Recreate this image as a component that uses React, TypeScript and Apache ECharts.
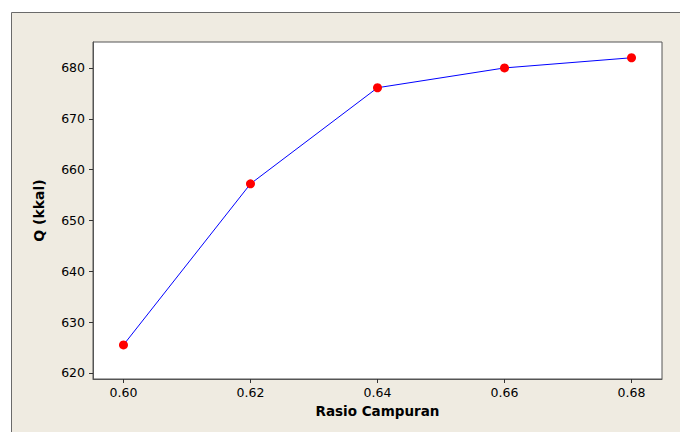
import React, { useEffect, useRef } from "react";
import * as echarts from "echarts";

const ratios = [0.6, 0.62, 0.64, 0.66, 0.68];
const qValues = [625.5, 657.2, 676.1, 680.0, 682.0];
const xTicks = [0.6, 0.62, 0.64, 0.66, 0.68];
const yTicks = [620, 630, 640, 650, 660, 670, 680];

export default function App() {
  const ref = useRef<HTMLDivElement>(null);
  useEffect(() => {
    if (!ref.current) return;
    const chart = echarts.init(ref.current, undefined, { renderer: "svg" });
    const font = "'DejaVu Sans', Verdana, sans-serif";
    chart.setOption({
      animation: false,
      backgroundColor: "#ffffff",
      graphic: {
        elements: [
          {
            type: "rect",
            z: -10,
            shape: { x: 11.5, y: 12.5, width: 700, height: 500 },
            style: { fill: "#efebe1", stroke: "#6a6a6a", lineWidth: 1 },
          },
        ],
      },
      grid: {
        left: 93,
        top: 42,
        right: 18,
        bottom: 53,
        show: true,
        backgroundColor: "#ffffff",
        borderColor: "#555555",
        borderWidth: 1,
      },
      xAxis: {
        type: "value",
        min: 0.5952,
        max: 0.6848,
        name: "Rasio Campuran",
        nameLocation: "middle",
        nameGap: 25,
        nameTextStyle: { fontFamily: font, fontWeight: "bold", fontSize: 13.5, color: "#000" },
        axisLine: { show: true, lineStyle: { color: "#555555" } },
        axisTick: { show: true, length: 4, inside: false, customValues: xTicks, lineStyle: { color: "#333" } },
        axisLabel: {
          customValues: xTicks,
          formatter: (v: number) => v.toFixed(2),
          fontFamily: font,
          fontSize: 12.5,
          color: "#000",
          margin: 7,
        },
        splitLine: { show: false },
      },
      yAxis: {
        type: "value",
        min: 618.8,
        max: 685.1,
        name: "Q (kkal)",
        nameLocation: "middle",
        nameGap: 47,
        nameTextStyle: { fontFamily: font, fontWeight: "bold", fontSize: 14, color: "#000" },
        axisLine: { show: true, lineStyle: { color: "#555555" } },
        axisTick: { show: true, length: 4, inside: false, customValues: yTicks, lineStyle: { color: "#333" } },
        axisLabel: {
          customValues: yTicks,
          formatter: (v: number) => String(Math.round(v)),
          fontFamily: font,
          fontSize: 12.5,
          color: "#000",
          margin: 8,
        },
        splitLine: { show: false },
      },
      series: [
        {
          type: "line",
          data: ratios.map((r, i) => [r, qValues[i]]),
          symbol: "circle",
          symbolSize: 9,
          lineStyle: { color: "#0000ff", width: 1 },
          itemStyle: { color: "#ff0000" },
        },
      ],
    });
    return () => chart.dispose();
  }, []);
  return (
    <div
      ref={ref}
      style={{ position: "absolute", left: 0, top: 0, width: 680, height: 432 }}
    />
  );
}
